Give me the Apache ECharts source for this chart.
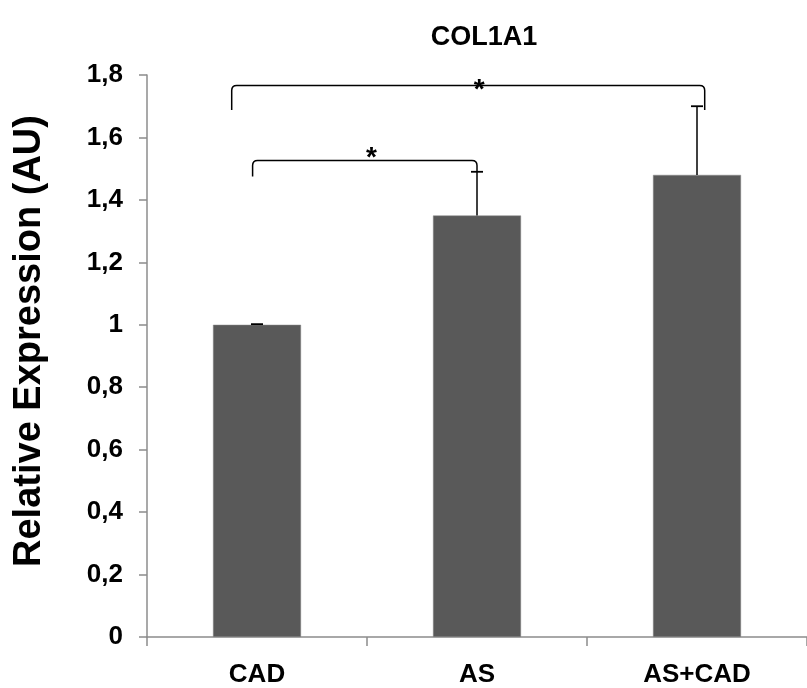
<!DOCTYPE html>
<html>
<head>
<meta charset="utf-8">
<script src="https://cdn.jsdelivr.net/npm/echarts@6/dist/echarts.min.js"></script>
<style>html,body{margin:0;padding:0;background:#fff}#c{width:807px;height:688px}</style>
</head>
<body>
<div id="c"></div>
<script>
// ---- data ----
const categories = ['CAD', 'AS', 'AS+CAD'];
const values = [1.00, 1.35, 1.48];
const errors = [0.002, 0.14, 0.22];
const yTickValues = [0, 0.2, 0.4, 0.6, 0.8, 1, 1.2, 1.4, 1.6, 1.8];
// significance brackets (x in category units, y in data units)
const bracketX1 = [-0.02, -0.115];
const bracketX2 = [1.0, 2.035];
const bracketTop = [1.526, 1.766];
const bracketLeftEnd = [1.475, 1.688];
const bracketRightEnd = [1.49, 1.688];
const starX = [0.52, 1.01];
const starY = [1.533, 1.752];
const starText = ['*', '*'];

const FONT = 'Liberation Sans, Arial, sans-serif';
const chart = echarts.init(document.getElementById('c'), null, {renderer: 'canvas'});

function fmt(v) { return String(+(+v).toFixed(1)).replace('.', ','); }

const option = {
  animation: false,
  backgroundColor: '#ffffff',
  title: {
    text: 'COL1A1', left: 479, top: 19, textAlign: 'center',
    textStyle: {fontFamily: FONT, fontWeight: 'bold', fontSize: 27, color: '#000'}
  },
  grid: {left: 147, top: 75, width: 664, height: 562.5},
  xAxis: {
    type: 'category', data: categories,
    axisLine: {lineStyle: {color: '#8c8c8c', width: 1.5}},
    axisTick: {show: true, length: 9, lineStyle: {color: '#8c8c8c', width: 1.5}},
    axisLabel: {margin: 25, fontFamily: FONT, fontWeight: 'bold', fontSize: 26, color: '#000'}
  },
  yAxis: {
    type: 'value', min: 0, max: 1.8, interval: 0.2,
    name: 'Relative Expression (AU)', nameLocation: 'middle', nameGap: 98,
    nameTextStyle: {fontFamily: FONT, fontWeight: 'bold', fontSize: 38, color: '#000', padding: [0, 0, 0, 30]},
    splitLine: {show: false},
    axisLine: {show: true, lineStyle: {color: '#8c8c8c', width: 1.5}},
    axisTick: {show: true, length: 8, lineStyle: {color: '#8c8c8c', width: 1.5}},
    axisLabel: {margin: 24, formatter: fmt, fontFamily: FONT, fontWeight: 'bold', fontSize: 26, color: '#000',
      customValues: yTickValues}
  },
  series: [
    {
      type: 'bar', data: values, barWidth: '40%',
      itemStyle: {color: '#595959', borderColor: '#8a8a8a', borderWidth: 0.5}
    },
    {
      type: 'custom', z: 5,
      data: values.map((v, i) => [i, v, errors[i]]),
      renderItem: function (params, api) {
        const i = api.value(0), v = api.value(1), e = api.value(2);
        const p0 = api.coord([i, v]);
        const p1 = api.coord([i, v + e]);
        const hw = 6;
        return {type: 'group', children: [
          {type: 'line', shape: {x1: p0[0], y1: p0[1], x2: p1[0], y2: p1[1]}, style: {stroke: '#000', lineWidth: 1.5}},
          {type: 'line', shape: {x1: p1[0] - hw, y1: p1[1], x2: p1[0] + hw, y2: p1[1]}, style: {stroke: '#000', lineWidth: 1.8}}
        ]};
      }
    },
    {
      type: 'custom', z: 6,
      data: bracketTop.map((t, k) => [k, t]),
      renderItem: function (params, api) {
        const k = api.value(0);
        const bw = api.size([1, 0])[0];
        const c0 = api.coord([0, 0])[0];
        const xL = c0 + bracketX1[k] * bw;
        const xR = c0 + bracketX2[k] * bw;
        const yT = api.coord([0, bracketTop[k]])[1];
        const yL = api.coord([0, bracketLeftEnd[k]])[1];
        const yR = api.coord([0, bracketRightEnd[k]])[1];
        const r = 5;
        const path = 'M' + xL + ' ' + yL + ' L' + xL + ' ' + (yT + r) +
          ' Q' + xL + ' ' + yT + ' ' + (xL + r) + ' ' + yT +
          ' L' + (xR - r) + ' ' + yT +
          ' Q' + xR + ' ' + yT + ' ' + xR + ' ' + (yT + r) +
          ' L' + xR + ' ' + yR;
        const sx = c0 + starX[k] * bw;
        const sy = api.coord([0, starY[k]])[1];
        return {type: 'group', children: [
          {type: 'path', shape: {pathData: path}, style: {stroke: '#000', lineWidth: 1.5, fill: null}},
          {type: 'text', x: sx, y: sy, style: {text: starText[k], fontFamily: FONT, fontWeight: 'bold', fontSize: 28,
            fill: '#000', align: 'center', verticalAlign: 'middle'}}
        ]};
      }
    }
  ]
};
chart.setOption(option);
</script>
</body>
</html>
